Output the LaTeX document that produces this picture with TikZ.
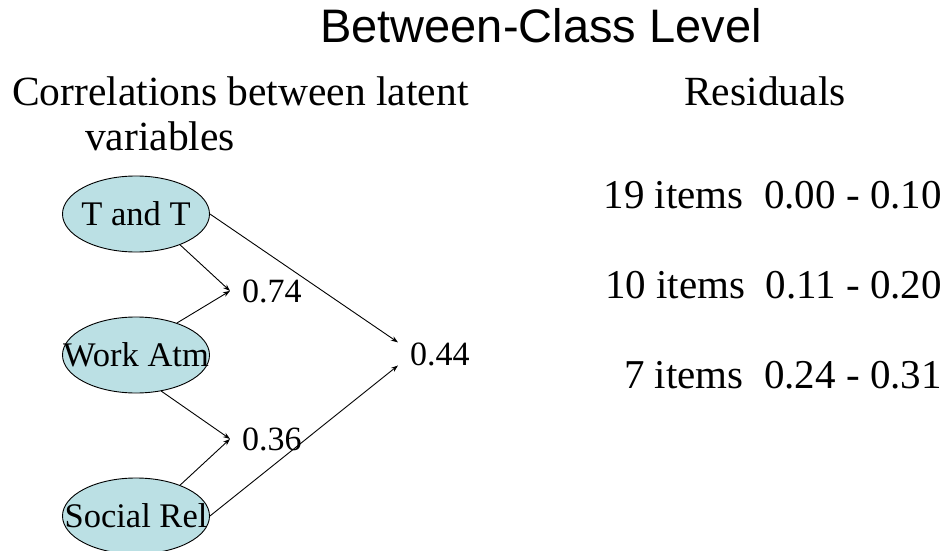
\documentclass[tikz,border=0pt]{standalone}
\usepackage{fontspec}
\setmainfont{Liberation Serif}
\newfontfamily\titlefont{Liberation Sans}
\usetikzlibrary{shapes.geometric,arrows.meta}
\definecolor{latentfill}{RGB}{187,224,228}
\begin{document}
\begin{tikzpicture}[x=1pt, y=-1pt, >={Stealth[length=7pt,width=5pt]},
  latent/.style={ellipse, draw, line width=0.9pt, fill=latentfill, inner sep=0pt,
    minimum width=147pt, minimum height=76pt, font=\fontsize{34.5}{38}\selectfont},
  head/.style={inner sep=0pt, font=\fontsize{41.5}{45}\selectfont},
  corr/.style={inner sep=0pt, outer xsep=12pt, outer ysep=0pt, anchor=base west,
    font=\fontsize{34}{38}\selectfont},
  link/.style={->, line width=0.9pt}]
  \useasboundingbox (0,0) rectangle (948,551);
  % titles
  \node[anchor=base, font=\titlefont\fontsize{47}{52}\selectfont] (title) at (541,43) {Between-Class Level};
  \node[head, anchor=base west] (corrhead) at (12,106) {Correlations between latent};
  \node[head, anchor=base west] (corrhead2) at (85,150) {variables};
  \node[head, anchor=base] (residhead) at (765,106) {Residuals};
  % latent variables
  \node[latent] (tt) at (136,214) {\makebox[0pt]{T and T}};
  \node[latent] (wa) at (136,355) {\makebox[0pt]{Work Atm}};
  \node[latent] (sr) at (136,516) {\makebox[0pt]{Social Rel}};
  % correlations
  \node[corr] (r74) at (230,302) {0.74};
  \node[corr] (r36) at (230,450) {0.36};
  \node[corr] (r44) at (398,365) {0.44};
  \draw[link] (tt.-35) -- (r74.west);
  \draw[link] (wa.38) -- (r74.west);
  \draw[link] (wa.-55) -- (r36.west);
  \draw[link] (sr.35) -- (r36.west);
  \draw[link] (tt.east) -- (r44.north west);
  \draw[link] (sr.east) -- (r44.south west);
  % residuals
  \foreach \n/\r/\y/\name in {19/0.00 - 0.10/208/res1, 10/0.11 - 0.20/298/res2, 7/0.24 - 0.31/388/res3}{
    \node[anchor=base east, inner sep=0pt, font=\fontsize{41}{45}\selectfont] (\name) at (942,\y) {\n{} items\ \ \r};
  }
\end{tikzpicture}
\end{document}
